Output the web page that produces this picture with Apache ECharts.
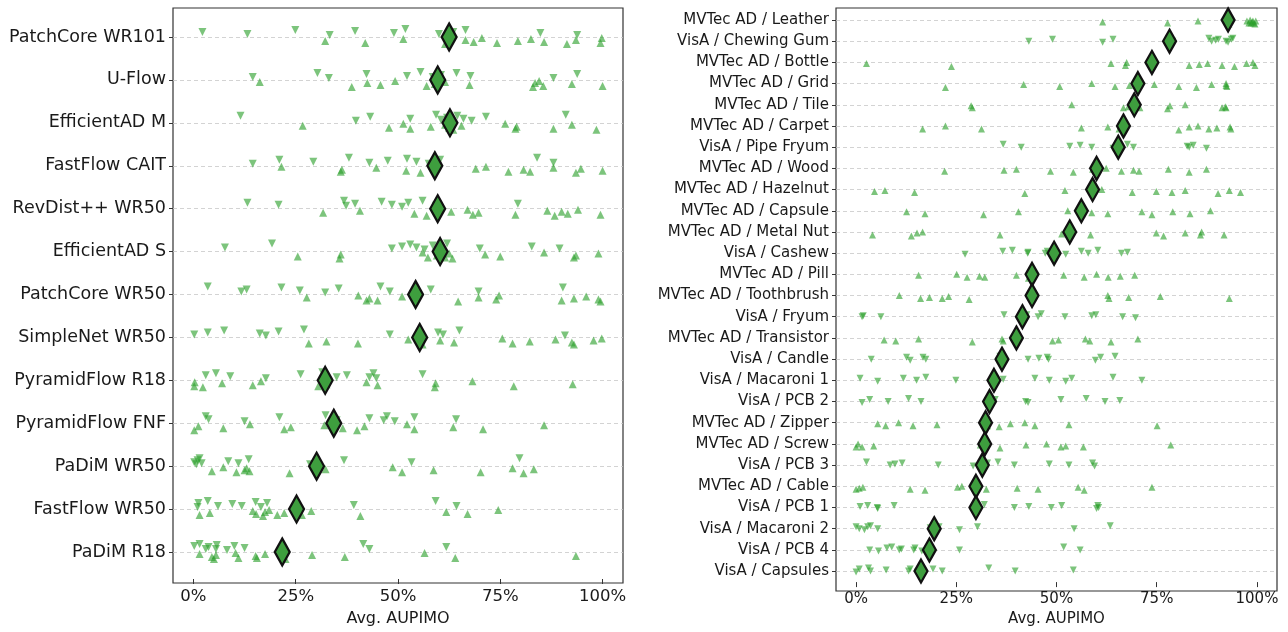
<!DOCTYPE html>
<html><head><meta charset="utf-8">
<script src="https://cdn.jsdelivr.net/npm/echarts@6/dist/echarts.min.js"></script>
<style>html,body{margin:0;padding:0;background:#fff}#c{width:1288px;height:632px}</style>
</head><body><div id="c"></div>
<script>
// ---------- data ----------
const models = ["PatchCore WR101","U-Flow","EfficientAD M","FastFlow CAIT","RevDist++ WR50","EfficientAD S","PatchCore WR50","SimpleNet WR50","PyramidFlow R18","PyramidFlow FNF","PaDiM WR50","FastFlow WR50","PaDiM R18"];
const modelMeans = [62.5,59.7,62.7,59.0,59.7,60.3,54.3,55.3,32.2,34.3,30.1,25.2,21.7];
// VisA datasets (down triangles) per model
const modelVisA = [
  [2.2,13.2,24.9,33.3,39.5,49,51.8,60,63.5,66.5,84.8,93.8],
  [14.5,30.3,33.1,42.3,52.2,55.5,58.5,60.5,64.3,67.7,88,93.8],
  [11.5,39.7,43.2,53,59.3,60.5,62,64.5,66,68,71.5,91],
  [14.5,21,29.3,38,43,47.5,52.2,54.5,57.5,60.3,84,88],
  [13.2,20.8,36.8,37.3,39.5,46,48.5,51,52.5,56,59.3,79.3],
  [7.7,19.2,48.5,51,53,54.5,56.5,58.5,62,70,82.7,89.5],
  [3.5,11.7,13,21.5,26,32.2,35.5,45.7,48,58,69.7,90.3],
  [0.2,3.5,7.5,16.2,17.7,20.8,27,48,59.8,61,65,90.8],
  [3,5.5,9,17.7,26.2,31.5,35,37.5,43,44,44.7,56],
  [3,3.7,12.5,21,32.3,35,43,46.5,47.3,49.2,54,64.2],
  [0.2,0.7,1,1.5,2,8.5,11,13.5,28.5,36.8,53.3,79.7],
  [1,1.2,3.5,6,9.5,11.8,15.2,16.5,18,39.2,59.2,64.3],
  [0.2,1.5,3,3.7,5.5,5.7,8.2,10,12.5,41.5,43,61.8]
];
// MVTec AD datasets (up triangles) per model
const modelMVTec = [
  [32.2,42,51.3,61.5,66.5,68.5,70.5,74.2,79.3,82.5,85.7,91.3,93.5,99.8,99.5],
  [16.2,38.7,42.5,45.7,49.3,57,59,61.5,67.5,83,83.5,84.5,85.5,92.5,100],
  [26.7,47.8,51.3,53,58,61.5,62.5,63.5,65.5,76.2,78.7,79,88,92.5,98.5],
  [21.5,36,36.3,44.7,52,55.5,69,71.5,77,80.7,82.3,88,93.5,94.7,100],
  [31.7,40.7,54,57,63,67,68.3,69.7,78.7,86.5,88.3,90,91.5,94,99.5],
  [25.5,35.7,36,56,57.3,59.5,61.5,62.5,63.3,71.3,75,85.7,93,93.5,99],
  [27.7,40.3,42.3,43,45,51,64.7,69.7,74,74.7,90,93,96,99,99.5],
  [28.2,32.5,40.2,52.5,56,60.3,63.7,75.5,78,82.2,88.5,92.5,93,97.8,99.8],
  [0.2,0.3,2.3,7,14.5,16.5,30.5,32.5,42.3,45,59,59.2,68.2,78.3,92.7],
  [0.2,1.2,7.3,13.8,22.2,23.8,32,36.5,40,41.8,52.2,54,63.5,70.8,85.7],
  [4.5,7.3,10.5,12.5,13,13.7,23.5,32.3,48.7,51,58.7,70.2,78,80.7,83.2],
  [1.5,4,14.5,15.3,17,17.5,18.5,20.5,22.2,26.5,28.8,40.8,61.8,67,74.5],
  [1.5,4.5,5,5.5,10.3,11,15.2,15.5,17.5,22.5,29,37,56.5,64,93.5]
];
const datasets = ["MVTec AD / Leather","VisA / Chewing Gum","MVTec AD / Bottle","MVTec AD / Grid","MVTec AD / Tile","MVTec AD / Carpet","VisA / Pipe Fryum","MVTec AD / Wood","MVTec AD / Hazelnut","MVTec AD / Capsule","MVTec AD / Metal Nut","VisA / Cashew","MVTec AD / Pill","MVTec AD / Toothbrush","VisA / Fryum","MVTec AD / Transistor","VisA / Candle","VisA / Macaroni 1","VisA / PCB 2","MVTec AD / Zipper","MVTec AD / Screw","VisA / PCB 3","MVTec AD / Cable","VisA / PCB 1","VisA / Macaroni 2","VisA / PCB 4","VisA / Capsules"];
const datasetMeans = [92.8,78.2,73.8,70.3,69.4,66.7,65.4,60.0,59.0,56.2,53.3,49.4,43.9,43.9,41.5,40.0,36.4,34.4,33.3,32.3,32.1,31.5,29.9,29.9,19.5,18.3,16.2];
const datasetScores = [
  [61.5,77.7,85.3,93,97.5,98,98.3,98.5,98.8,99,99.2,99.5,99.7],
  [43.1,49,61.5,64.1,79,88,88.7,89.7,90.4,92.3,92.8,93.6,94],
  [2.6,23.8,63.6,67.2,67.5,83.1,85.6,87.7,91.3,94.4,97.4,99,99.5],
  [22.3,41.8,50.8,58.8,64.6,68.2,74.4,80.5,84.9,88.7,92.3,92.5,92.3],
  [28.7,29,53.8,66.7,67.9,69,70.8,77.7,78.3,82.1,91.3,92.1,92.3],
  [16.6,22.3,31.3,56.2,62.8,65.6,80.5,83.1,85.3,88,90,93.5,93.3],
  [36.7,41.2,53.3,55.9,58.8,64.1,65.6,67.7,69.2,82.6,83.1,84.1,87.4],
  [22.1,36.9,40,48.5,54.2,59,62.4,66.2,69.2,70.6,77.9,83.1,87.4],
  [4.6,7.2,14.6,42.1,52.1,61.3,68.9,74.9,78.8,82.1,90.3,93.1,95.9],
  [12.6,17.2,31.8,40.5,52.8,56.4,58.8,62.8,71.3,73.8,79,83.3,88.4],
  [4.1,13.8,15.2,16.6,35.9,51.3,58.5,74.9,76.7,82.1,85.9,86.2,91.8],
  [27.2,36.6,39,42.8,42.9,47.2,47.7,52.3,56.2,57.9,60.3,66.2,67.7],
  [15.6,25.1,27.7,30.8,32.1,40,43,51.8,56.9,60,62.9,65.9,69.5],
  [10.8,16.1,18.3,21.5,23.1,28.2,43.6,44.1,62.8,63.1,68,75.9,93.1],
  [1.5,1.8,6.2,36.9,41,42.6,45.4,46.2,52.1,58.8,59.8,66.5,69.7],
  [7,9.9,15.6,29,36.4,36.7,39.5,49,50.5,57.2,58.3,63.6,70.3],
  [3.8,12.6,13.5,16.7,17.4,35.9,42.9,45.6,47.7,48,59.7,61,64.6],
  [1,5.4,11.8,15.1,17.4,24.9,36.7,44.6,48.2,52.3,53.8,64.1,71.3],
  [1.5,3.4,8,13.1,16.2,32.8,34.7,42.3,42.9,51.1,57.4,62.1,65.8],
  [5.4,7.4,10.6,14.2,20.2,31.8,32.8,35.7,38.5,42.1,44.6,53.1,75.1],
  [0,0.5,1.5,4.4,31,32,35.9,42.4,47.5,51.1,52.3,56.7,78.5],
  [2.6,8.5,9.7,11.5,20.5,29.2,32.8,35.4,39.5,48.2,53.1,59,59.5],
  [0,0.8,1.7,13.5,17.2,25.3,26.4,32.5,40.2,45.4,55.4,56.9,73.8],
  [1,2.9,5.3,5.4,9.5,32,39.5,43.1,48.7,51.3,60,60.3,60.5],
  [0,0.8,2.1,2.9,3.6,5.4,18.5,20,20.7,25.8,30.3,54.4,63.4],
  [3.4,5.6,7.7,8.9,10.8,11.3,14.4,14.7,16.4,18.5,25.8,51.8,55.9],
  [0,0.8,3.1,3.6,7.5,13.1,13.5,15.4,19.2,21.5,33.1,39.7,54.2]
];
const xTicks = [0,25,50,75,100];
const xTitle = "Avg. AUPIMO";

// ---------- style / layout ----------
const W = 1288, H = 632;
const L = {left:173, right:623, top:8, bottom:583, rowTop:37, rowBottom:556,
  yFont:17.5, xFont:16.5, tFont:16, labMargin:9, nameGap:32, tri:8, dia:[15,27]};
const R = {left:836, right:1277, top:8, bottom:591, rowTop:20, rowBottom:580,
  yFont:15, xFont:15, tFont:15, labMargin:10, nameGap:26, tri:7, dia:[13,23]};
const jitter = [0,2,-2,3,-1,1,-3,2,0,-2,1,3,-1,-3,2];
const triColor = '#2ca02c';
const textColor = '#1a1a1a';

function frameGrid(P){ return {left:P.left, top:P.top, width:P.right-P.left, height:P.bottom-P.top, show:true, borderColor:'#333', borderWidth:1.2, backgroundColor:'transparent', containLabel:false}; }
function dataGrid(P){ return {left:P.left, top:P.rowTop, width:P.right-P.left, height:P.rowBottom-P.rowTop, show:false, containLabel:false}; }

function dataX(gi, P){
  return {type:'value', gridIndex:gi, min:-5, max:105, offset:P.bottom-P.rowBottom,
    name:xTitle, nameLocation:'middle', nameGap:P.nameGap,
    nameTextStyle:{fontFamily:'DejaVu Sans', fontSize:P.tFont, color:textColor},
    axisLine:{show:false, onZero:false},
    axisTick:{show:true, length:5, customValues:xTicks, lineStyle:{color:'#333'}},
    axisLabel:{customValues:xTicks, formatter:v=>v+'%', fontFamily:'DejaVu Sans', fontSize:P.xFont, color:textColor, margin:P.labMargin},
    splitLine:{show:false}};
}
function dataY(gi, P, cats){
  return {type:'category', gridIndex:gi, data:cats, inverse:true, boundaryGap:false,
    axisLine:{show:false, onZero:false},
    axisTick:{show:true, length:4, lineStyle:{color:'#333'}},
    axisLabel:{fontFamily:'DejaVu Sans', fontSize:P.yFont, color:textColor, margin:7},
    splitLine:{show:true, lineStyle:{color:'#c8c8c8', type:[4,3], width:0.8}}};
}

// left panel points
const leftVis = [], leftMv = [];
models.forEach((m,i)=>{
  modelVisA[i].forEach((v,j)=>leftVis.push({value:[v,m], symbolOffset:[0,-5+jitter[(j+i)%jitter.length]]}));
  modelMVTec[i].forEach((v,j)=>leftMv.push({value:[v,m], symbolOffset:[0,4+jitter[(j+2*i)%jitter.length]]}));
});
const leftMean = models.map((m,i)=>[modelMeans[i], m]);

// right panel points
const rightVis = [], rightMv = [];
datasets.forEach((d,i)=>{
  const isVis = d.startsWith('VisA');
  datasetScores[i].forEach((v,j)=>{
    const off = (isVis?-1:2) + Math.round(jitter[(j+i)%jitter.length]*0.7);
    (isVis?rightVis:rightMv).push({value:[v,d], symbolOffset:[0,off]});
  });
});
const rightMean = datasets.map((d,i)=>[datasetMeans[i], d]);

function triSeries(xi, data, size, down){
  return {type:'scatter', xAxisIndex:xi, yAxisIndex:xi, data, symbol:'triangle', symbolRotate:down?180:0,
    symbolSize:size, itemStyle:{color:triColor, opacity:0.62}, z:2, silent:true};
}
function meanSeries(xi, data, size){
  return {type:'scatter', xAxisIndex:xi, yAxisIndex:xi, data, symbol:'diamond', symbolSize:size,
    itemStyle:{color:'#3e9e3e', borderColor:'#111', borderWidth:2.4, opacity:1}, z:5, silent:true};
}

const option = {
  animation:false,
  backgroundColor:'#fff',
  grid:[frameGrid(L), frameGrid(R), dataGrid(L), dataGrid(R)],
  xAxis:[
    {type:'value', gridIndex:0, show:false}, {type:'value', gridIndex:1, show:false},
    dataX(2,L), dataX(3,R)
  ],
  yAxis:[
    {type:'value', gridIndex:0, show:false}, {type:'value', gridIndex:1, show:false},
    dataY(2,L,models), dataY(3,R,datasets)
  ],
  series:[
    triSeries(2,leftVis,L.tri,true), triSeries(2,leftMv,L.tri,false), meanSeries(2,leftMean,L.dia),
    triSeries(3,rightVis,R.tri,true), triSeries(3,rightMv,R.tri,false), meanSeries(3,rightMean,R.dia)
  ]
};
const chart = echarts.init(document.getElementById('c'), null, {renderer:'canvas', width:W, height:H});
chart.setOption(option);
</script></body></html>
